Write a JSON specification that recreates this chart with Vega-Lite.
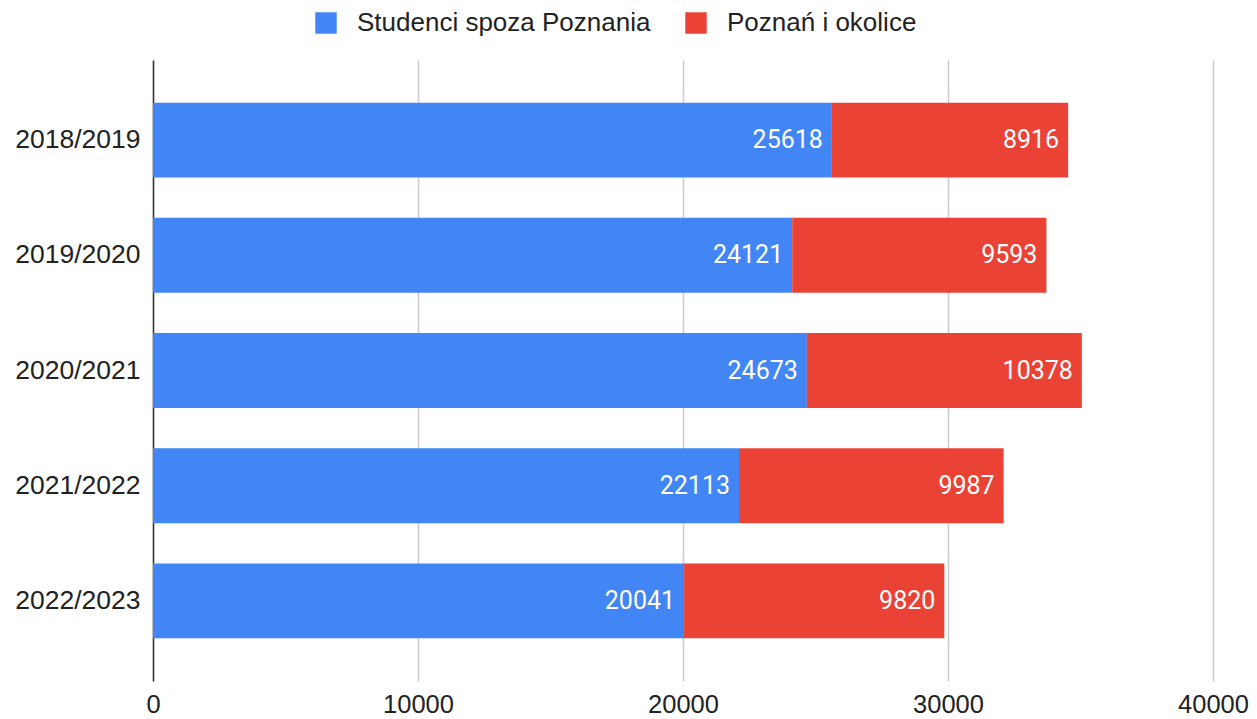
{
  "$schema": "https://vega.github.io/schema/vega-lite/v6.json",
  "width": 1060,
  "height": 621,
  "autosize": {"type": "none"},
  "padding": {"left": 153, "top": 60, "right": 44, "bottom": 38},
  "background": "white",
  "data": {
    "values": [
      {"year": "2018/2019", "group": "Studenci spoza Poznania", "order": 1, "value": 25618},
      {"year": "2018/2019", "group": "Poznań i okolice", "order": 2, "value": 8916},
      {"year": "2019/2020", "group": "Studenci spoza Poznania", "order": 1, "value": 24121},
      {"year": "2019/2020", "group": "Poznań i okolice", "order": 2, "value": 9593},
      {"year": "2020/2021", "group": "Studenci spoza Poznania", "order": 1, "value": 24673},
      {"year": "2020/2021", "group": "Poznań i okolice", "order": 2, "value": 10378},
      {"year": "2021/2022", "group": "Studenci spoza Poznania", "order": 1, "value": 22113},
      {"year": "2021/2022", "group": "Poznań i okolice", "order": 2, "value": 9987},
      {"year": "2022/2023", "group": "Studenci spoza Poznania", "order": 1, "value": 20041},
      {"year": "2022/2023", "group": "Poznań i okolice", "order": 2, "value": 9820}
    ]
  },
  "transform": [
    {"stack": "value", "groupby": ["year"], "sort": [{"field": "order", "order": "ascending"}], "as": ["v0", "v1"]}
  ],
  "encoding": {
    "y": {
      "field": "year",
      "type": "nominal",
      "sort": null,
      "scale": {"paddingInner": 0.35, "paddingOuter": 0.37},
      "axis": {
        "title": null,
        "domain": true,
        "domainColor": "#333333",
        "domainWidth": 1.5,
        "ticks": false,
        "labelPadding": 13,
        "labelFont": "Liberation Sans",
        "labelFontSize": 26.5,
        "labelColor": "#222222",
        "grid": false
      }
    }
  },
  "layer": [
    {
      "mark": {"type": "bar"},
      "encoding": {
        "x": {
          "field": "v0",
          "type": "quantitative",
          "scale": {"domain": [0, 40000], "nice": false},
          "axis": {
            "title": null,
            "values": [0, 10000, 20000, 30000, 40000],
            "format": "d",
            "domain": false,
            "ticks": false,
            "grid": true,
            "gridColor": "#cccccc",
            "gridWidth": 1.5,
            "labelFlush": false,
            "labelOverlap": false,
            "labelPadding": 11,
            "labelFont": "Liberation Sans",
            "labelFontSize": 25.5,
            "labelColor": "#222222"
          }
        },
        "x2": {"field": "v1"},
        "color": {
          "field": "group",
          "type": "nominal",
          "scale": {
            "domain": ["Studenci spoza Poznania", "Poznań i okolice"],
            "range": ["#4285F4", "#EA4335"]
          },
          "legend": {
            "title": null,
            "orient": "none",
            "direction": "horizontal",
            "legendX": 160,
            "legendY": -50,
            "symbolType": "square",
            "symbolSize": 460,
            "symbolStrokeWidth": 0,
            "symbolOpacity": 1,
            "labelFont": "Liberation Sans",
            "labelFontSize": 26,
            "labelColor": "#222222",
            "labelLimit": 0,
            "labelOffset": 18,
            "columnPadding": 32
          }
        }
      }
    },
    {
      "mark": {"type": "text", "align": "right", "baseline": "middle", "dx": -9, "color": "white", "font": "Roboto", "fontSize": 25},
      "encoding": {
        "x": {"field": "v1", "type": "quantitative"},
        "text": {"field": "value", "type": "quantitative", "format": "d"}
      }
    }
  ],
  "config": {"view": {"stroke": null}}
}
